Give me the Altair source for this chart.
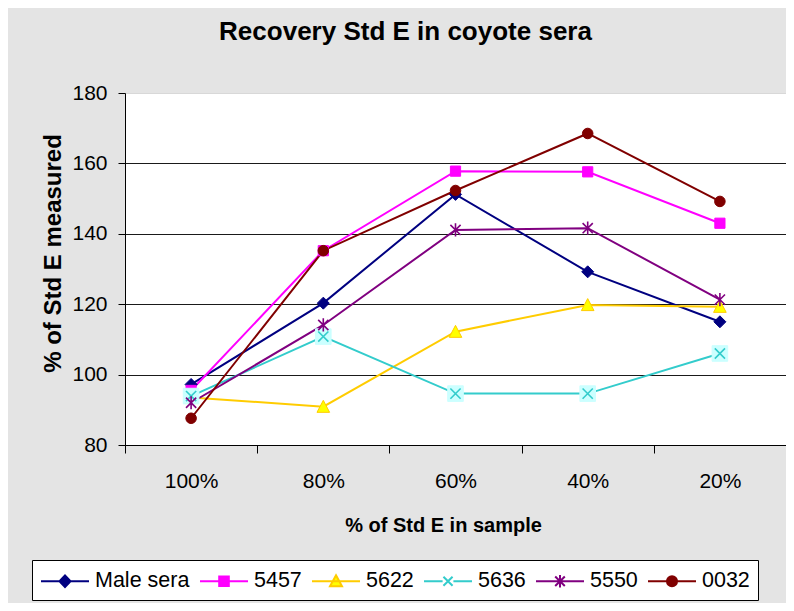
import altair as alt
import pandas as pd

FONT = "Liberation Sans"

conc = ["100%", "80%", "60%", "40%", "20%"]
series = ["Male sera", "5457", "5622", "5636", "5550", "0032"]
male_sera = [97.2, 120.3, 151.2, 129.2, 115.0]
s5457 = [95.5, 135.2, 157.8, 157.6, 143.0]
s5622 = [93.5, 90.9, 112.2, 119.8, 119.3]
s5636 = [93.9, 110.8, 94.6, 94.6, 106.0]
s5550 = [92.0, 114.1, 141.1, 141.6, 121.3]
s0032 = [87.6, 135.2, 152.3, 168.5, 149.2]

line_colors = ["#000080", "#FF00FF", "#FFCC00", "#33CCCC", "#800080", "#800000"]
marker_fill = ["#000080", "#FF00FF", "#FFFF00", "#CCFFFF", "transparent", "#800000"]
marker_stroke = ["#000080", "#FF00FF", "#FFCC00", "#CCFFFF", "#800080", "#800000"]

# filled markers (size 144 -> 6 px per unit)
shape_filled = [
    "M0,-1L1,0L0,1L-1,0Z",
    "M-0.85,-0.85H0.85V0.85H-0.85Z",
    "M0,-1.05L1.05,0.95L-1.05,0.95Z",
    "M-1.3,-1.3H1.3V1.3H-1.3Z",
    "circle",
    "M0.88,0A0.88,0.88 0 1,1 -0.88,0A0.88,0.88 0 1,1 0.88,0Z",
]
stroke_series = ["5636", "5550"]
shape_stroked = [
    "M-0.85,-0.85L0.85,0.85M-0.85,0.85L0.85,-0.85",
    "M-0.85,-0.85L0.85,0.85M-0.85,0.85L0.85,-0.85M0,-1.1L0,1.1",
]
# legend symbols (size 576 -> 12 px per unit): line + marker
shape_legend = [
    "M-1,0L3,0M1,-0.48L1.46,0L1,0.48L0.54,0Z",
    "M-1,0L3,0M0.6,-0.4H1.4V0.4H0.6Z",
    "M-1,0L3,0M1,-0.5L1.5,0.42L0.5,0.42Z",
    "M-1,0L0.55,0M1.45,0L3,0M0.62,-0.38L1.38,0.38M0.62,0.38L1.38,-0.38",
    "M-1,0L3,0M0.6,-0.4L1.4,0.4M0.6,0.4L1.4,-0.4M1,-0.52L1,0.52",
    "M-1,0L3,0M1.42,0A0.42,0.42 0 1,1 0.58,0A0.42,0.42 0 1,1 1.42,0Z",
]

values = [male_sera, s5457, s5622, s5636, s5550, s0032]
rows = []
for name, vals in zip(series, values):
    for c, v in zip(conc, vals):
        rows.append({"conc": c, "series": name, "value": v})
df = pd.DataFrame(rows)

base = alt.Chart(df)

x_scale = alt.Scale(type="band", domain=conc, paddingInner=0, paddingOuter=0)
y_scale = alt.Scale(domain=[80, 180], nice=False, zero=False)

x_axis = alt.Axis(
    tickBand="extent", labelAngle=0, labelFontSize=21, labelFont=FONT,
    labelColor="black", labelPadding=17, tickSize=8, tickColor="black",
    domainColor="black", grid=False, title="% of Std E in sample",
    titleFontSize=20, titleFont=FONT, titleFontWeight="bold", titleColor="black",
    titleX=318, titleY=86, titleBaseline="alphabetic", titleAlign="center",
)
y_axis = alt.Axis(
    values=[80, 100, 120, 140, 160, 180], tickSize=7, labelPadding=11,
    labelFontSize=21, labelFont=FONT, labelColor="black", labelFlush=False,
    domainColor="black", tickColor="black", grid=True,
    gridColor=alt.condition("datum.value == 180", alt.value("#d8d8d8"), alt.value("#1a1a1a")),
    gridWidth=1, title="% of Std E measured", titleFontSize=24, titleFont=FONT,
    titleFontWeight="bold", titleColor="black", titleX=-72, titleY=160,
    titleBaseline="middle", titleAlign="center", titleAngle=270,
)

X = alt.X("conc:N", sort=conc, scale=x_scale, axis=x_axis)
X2 = alt.X("conc:N", sort=conc, scale=x_scale)
Y = alt.Y("value:Q", scale=y_scale, axis=y_axis)
Y2 = alt.Y("value:Q", scale=y_scale)

lines = base.mark_line(strokeWidth=2).encode(
    x=X, y=Y,
    color=alt.Color("series:N", scale=alt.Scale(domain=series, range=line_colors), legend=None),
    detail="series:N",
)

pts_a = base.mark_point(filled=True, size=144, strokeWidth=1, opacity=1).encode(
    x=X2, y=Y2,
    shape=alt.Shape("series:N", scale=alt.Scale(domain=series, range=shape_filled), legend=None),
    fill=alt.Fill("series:N", scale=alt.Scale(domain=series, range=marker_fill), legend=None),
    stroke=alt.Stroke("series:N", scale=alt.Scale(domain=series, range=marker_stroke), legend=None),
).transform_filter(alt.FieldOneOfPredicate(field="series", oneOf=["Male sera", "5457", "5622", "5636", "0032"]))

pts_b = base.mark_point(filled=False, size=144, strokeWidth=1.6, opacity=1).encode(
    x=X2, y=Y2,
    shape=alt.Shape("series:N", scale=alt.Scale(domain=stroke_series, range=shape_stroked), legend=None),
    color=alt.Color("series:N", scale=alt.Scale(domain=series, range=line_colors), legend=None),
).transform_filter(alt.FieldOneOfPredicate(field="series", oneOf=stroke_series))

leg = alt.Legend(
    title=None, orient="none", legendX=-93, legendY=467, direction="horizontal",
    columns=6, symbolSize=576, symbolStrokeWidth=2, symbolOpacity=1,
    labelFontSize=21.5, labelFont=FONT, labelColor="black", labelOffset=29,
    columnPadding=6, padding=8, strokeColor="black", fillColor="white",
    labelExpr="datum.label == '0032' ? '\u00a00032' : datum.label",
)

legend_layer = base.mark_point(filled=True, size=576, strokeWidth=2, opacity=0).encode(
    x=X2, y=Y2,
    shape=alt.Shape("series:N", scale=alt.Scale(domain=series, range=shape_legend), legend=leg),
    fill=alt.Fill("series:N", scale=alt.Scale(domain=series, range=marker_fill), legend=leg),
    stroke=alt.Stroke("series:N", scale=alt.Scale(domain=series, range=line_colors), legend=leg),
)

chart = alt.layer(lines, pts_a, pts_b, legend_layer).resolve_scale(
    shape="independent", fill="independent", stroke="independent"
).properties(
    width=661, height=352,
    background="#e4e4e4",
    padding={"left": 117, "top": 85, "right": 0, "bottom": 158},
    autosize=alt.AutoSizeParams(type="none"),
    title=alt.Title(
        "Recovery Std E in coyote sera", fontSize=26, font=FONT, fontWeight="bold",
        color="black", anchor="middle", frame="group", dx=-50, offset=16,
        baseline="alphabetic",
    ),
).configure_view(stroke="#d0d0d0", fill="white")

chart.save("out.html", embed_options={"renderer": "svg", "actions": False})
